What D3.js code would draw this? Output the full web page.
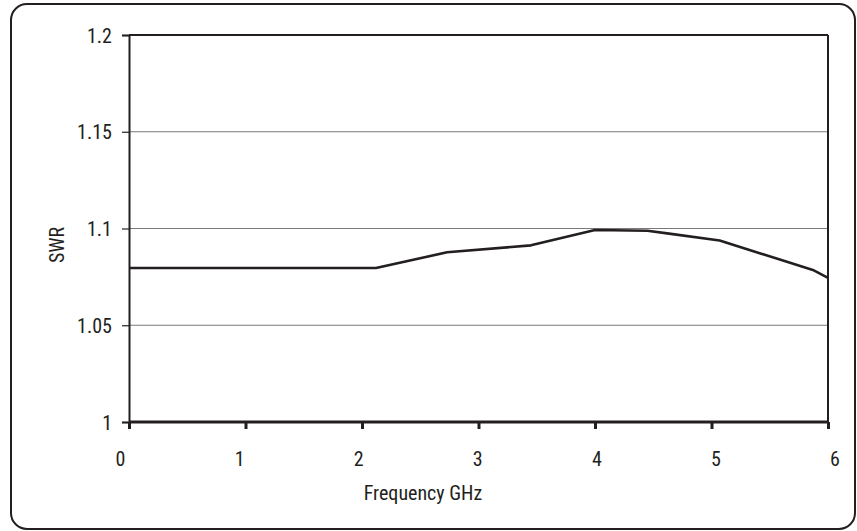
<!DOCTYPE html>
<html>
<head>
<meta charset="utf-8">
<script src="https://cdn.jsdelivr.net/npm/d3@7"></script>
<style>
  html, body { margin: 0; padding: 0; background: #fff; }
  svg text { font-family: "Liberation Sans Narrow", "Roboto Condensed", "DejaVu Sans Condensed", sans-serif; fill: #231f20; }
</style>
</head>
<body>
<svg id="chart" width="857" height="531"></svg>
<script>
// Data
const freqGHz = [0, 2.12, 2.73, 3.45, 4.0, 4.45, 4.62, 5.07, 5.6, 5.87, 6.0];
const swr     = [1.0796, 1.0796, 1.0877, 1.0913, 1.0992, 1.0988, 1.0975, 1.0938, 1.0837, 1.0786, 1.0745];
const xTicks = [0, 1, 2, 3, 4, 5, 6];
const yTicks = [1, 1.05, 1.1, 1.15, 1.2];
const yTickLabels = ["1", "1.05", "1.1", "1.15", "1.2"];
const xTitle = "Frequency GHz";
const yTitle = "SWR";

const svg = d3.select("#chart");
const ink = "#231f20";

// outer rounded frame
svg.append("rect")
  .attr("x", 11).attr("y", 4).attr("width", 844).attr("height", 525)
  .attr("rx", 16).attr("ry", 16)
  .attr("fill", "none").attr("stroke", ink).attr("stroke-width", 2);

const x = d3.scaleLinear().domain([0, 6]).range([129, 828]);
const xLabelPos = d3.scaleLinear().domain([0, 6]).range([120.5, 835]);
const y = d3.scaleLinear().domain([1, 1.2]).range([422, 35]);

// gridlines
svg.append("g").selectAll("line").data(yTicks.filter(d => d > 1 && d < 1.2)).join("line")
  .attr("x1", x(0)).attr("x2", x(6))
  .attr("y1", d => y(d)).attr("y2", d => y(d))
  .attr("stroke", "#7a7a7a").attr("stroke-width", 1.2);

// frame top & right
svg.append("line").attr("x1", x(0)).attr("x2", x(6)).attr("y1", y(1.2)).attr("y2", y(1.2))
  .attr("stroke", ink).attr("stroke-width", 2);
svg.append("line").attr("x1", x(6)).attr("x2", x(6)).attr("y1", y(1.2)).attr("y2", y(1))
  .attr("stroke", ink).attr("stroke-width", 2);

// y axis
const yAxis = d3.axisLeft(y).tickValues(yTicks).tickSize(7).tickFormat((d, i) => yTickLabels[i]);
const gy = svg.append("g").attr("transform", `translate(${x(0)},0)`).call(yAxis);
gy.select(".domain").attr("stroke", ink).attr("stroke-width", 2);
gy.selectAll(".tick line").attr("stroke", ink).attr("stroke-width", 1.2);
gy.selectAll(".tick text").attr("x", -17).attr("font-size", 20).attr("dy", "0.35em")
  .style("font-family", null).attr("fill", ink);

// x axis (tick marks)
const xAxis = d3.axisBottom(x).tickValues(xTicks).tickSize(7).tickFormat("");
const gx = svg.append("g").attr("transform", `translate(0,${y(1)})`).call(xAxis);
gx.select(".domain").attr("stroke", ink).attr("stroke-width", 3).attr("d", `M${x(0)},0H${x(6)}`);
gx.selectAll(".tick line").attr("stroke", ink).attr("stroke-width", 3);

// x labels
svg.append("g").selectAll("text").data(xTicks).join("text")
  .attr("x", d => xLabelPos(d)).attr("y", 466)
  .attr("text-anchor", "middle").attr("font-size", 20)
  .text(d => d);

// titles
svg.append("text").attr("x", 423).attr("y", 500).attr("text-anchor", "middle")
  .attr("font-size", 20).text(xTitle);
svg.append("text").attr("transform", "translate(64,245) rotate(-90)")
  .attr("text-anchor", "middle").attr("font-size", 20).text(yTitle);

// series line
const pts = freqGHz.map((f, i) => [f, swr[i]]);
svg.append("path").datum(pts)
  .attr("fill", "none").attr("stroke", ink).attr("stroke-width", 2.6)
  .attr("stroke-linejoin", "round")
  .attr("d", d3.line().x(d => x(d[0])).y(d => y(d[1])));
</script>
</body>
</html>
